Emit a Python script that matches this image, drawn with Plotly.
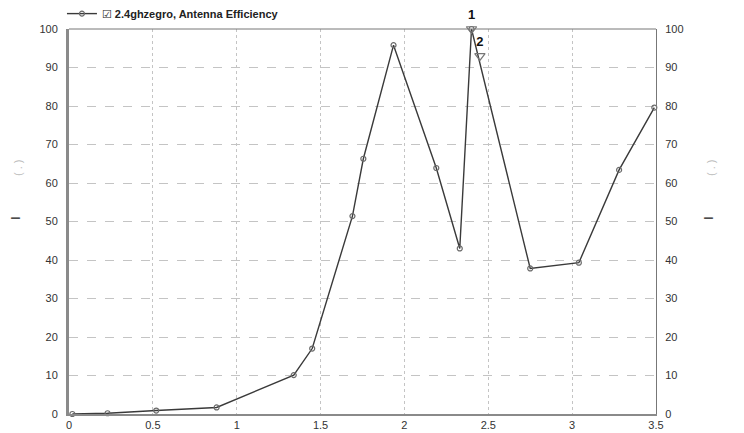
import plotly.graph_objects as go

# ── data ─────────────────────────────────────────────────────────────────────
freq_ghz = [0.02, 0.23, 0.52, 0.88, 1.34, 1.45, 1.69, 1.755, 1.935,
            2.19, 2.33, 2.40, 2.75, 3.04, 3.28, 3.49]
efficiency = [0.0, 0.2, 0.9, 1.7, 10.1, 17.0, 51.4, 66.3, 95.8,
              63.9, 43.0, 100.0, 37.8, 39.3, 63.4, 79.6]

marker_x = [2.40, 2.45]
marker_y = [100.0, 93.0]
marker_labels = ["<b>1</b>", "<b>2</b>"]

x_ticks = [0, 0.5, 1, 1.5, 2, 2.5, 3, 3.5]
y_ticks = [0, 10, 20, 30, 40, 50, 60, 70, 80, 90, 100]

FONT = "Liberation Sans, Arial, DejaVu Sans, sans-serif"
GRID = "#c4c4c4"

# page body has an 8px margin, so the figure is drawn 8px in from the corner
PLOT_L, PLOT_T, PLOT_W, PLOT_H = 61, 21, 587, 385

fig = go.Figure()

fig.add_trace(go.Scatter(
    x=freq_ghz, y=efficiency, mode="lines+markers",
    name="☑ 2.4ghzegro, Antenna Efficiency",
    line=dict(color="#3a3a3a", width=1.4),
    marker=dict(symbol="circle-open", size=5, color="#6a6a6a",
                line=dict(width=1.2)),
    cliponaxis=False,
))

# invisible copy so the right-hand axis is drawn
fig.add_trace(go.Scatter(
    x=freq_ghz, y=efficiency, yaxis="y2", mode="lines",
    line=dict(color="rgba(0,0,0,0)"), showlegend=False, hoverinfo="skip",
))

fig.add_trace(go.Scatter(
    x=marker_x, y=marker_y, mode="markers+text",
    text=marker_labels, textposition="top center",
    textfont=dict(family=FONT, size=13, color="#111"),
    marker=dict(symbol="triangle-down-open", size=9, color="#777",
                line=dict(width=1.2)),
    showlegend=False, cliponaxis=False,
))

axis_common = dict(
    range=[0, 100], tickvals=y_ticks, ticks="", automargin=False,
    tickfont=dict(family=FONT, size=11, color="#333"),
    zeroline=False, ticklabelstandoff=6,
)

fig.update_layout(
    width=736, height=425,
    margin=dict(l=PLOT_L, r=736 - PLOT_L - PLOT_W, t=PLOT_T,
                b=425 - PLOT_T - PLOT_H, autoexpand=False),
    plot_bgcolor="white", paper_bgcolor="white",
    font=dict(family=FONT, size=11, color="#333"),
    showlegend=True,
    legend=dict(
        x=-0.012, xanchor="left", y=1.04, yanchor="middle",
        orientation="h", bgcolor="rgba(0,0,0,0)",
        font=dict(family=FONT, size=11, color="#222", weight="bold"),
        itemwidth=30,
    ),
    xaxis=dict(
        range=[0, 3.5], tickvals=x_ticks, ticktext=[str(t) for t in x_ticks],
        ticks="", showgrid=True, gridcolor=GRID, griddash="dot", gridwidth=1,
        showline=True, linecolor="#8a8a8a", linewidth=2, zeroline=False,
        automargin=False, tickfont=dict(family=FONT, size=11, color="#333"),
    ),
    yaxis=dict(
        **axis_common, showgrid=True, gridcolor=GRID, griddash="dash",
        showline=True, linecolor="#8a8a8a", linewidth=3,
    ),
    yaxis2=dict(
        **axis_common, overlaying="y", side="right", showgrid=False,
        showline=True, linecolor="#777", linewidth=1,
    ),
    shapes=[dict(type="line", xref="paper", yref="paper", x0=0, x1=1, y0=1, y1=1,
                 line=dict(color="#777", width=1))],
)

# clipped, barely legible axis titles of the original
for xpos in (15, 708):
    fig.add_annotation(xref="paper", yref="paper", x=(xpos - 69) / PLOT_W,
                       y=(414 - 218) / PLOT_H, text="I", textangle=-90,
                       xanchor="center", yanchor="middle",
                       showarrow=False, font=dict(size=13, color="#222"))
    fig.add_annotation(xref="paper", yref="paper", x=(xpos - 66) / PLOT_W,
                       y=(414 - 168) / PLOT_H, text="( . )", textangle=-90,
                       xanchor="center", yanchor="middle",
                       showarrow=False, font=dict(size=11, color="#bbb"))

fig.write_html("out.html")
